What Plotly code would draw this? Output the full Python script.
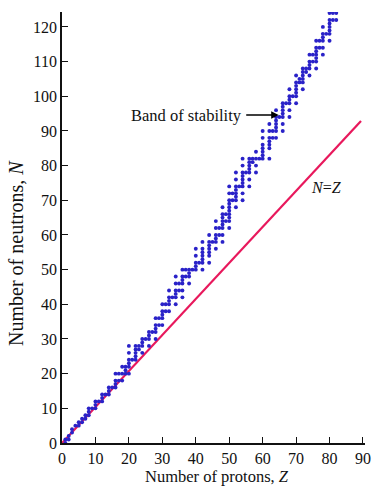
import plotly.graph_objects as go

# Band of stability: for each proton number Z, the neutron numbers N of stable nuclei
proton_numbers = list(range(1, 84))
neutron_numbers = [
    [0, 1], [1, 2], [3, 4], [5], [5, 6], [6, 7], [7, 8], [8, 9, 10], [10], [10, 11, 12],
    [12], [12, 13, 14], [14], [14, 15, 16], [16], [16, 17, 18, 20], [18, 20], [18, 20, 22],
    [20, 21, 22], [20, 22, 23, 24, 26, 28], [24], [24, 25, 26, 27, 28], [27, 28],
    [26, 28, 29, 30], [30], [28, 30, 31, 32], [32], [30, 32, 33, 34, 36], [34, 36],
    [34, 36, 37, 38, 40], [38, 40], [38, 40, 41, 42, 44], [42], [40, 42, 43, 44, 46, 48],
    [44, 46], [42, 44, 46, 47, 48, 50], [48, 50], [46, 48, 49, 50], [50], [50, 51, 52, 54, 56],
    [52], [50, 52, 53, 54, 55, 56, 58], [], [52, 54, 55, 56, 57, 58, 60], [58],
    [56, 58, 59, 60, 62, 64], [60, 62], [58, 60, 62, 63, 64, 65, 66, 68], [64, 66],
    [62, 64, 65, 66, 67, 68, 69, 70, 72, 74], [70, 72], [68, 70, 71, 72, 73, 74, 76, 78], [74],
    [70, 72, 74, 75, 76, 77, 78, 80, 82], [78], [74, 76, 78, 79, 80, 81, 82], [81, 82],
    [78, 80, 82, 84], [82], [82, 83, 84, 85, 86, 88, 90], [], [82, 85, 86, 87, 88, 90, 92],
    [88, 90], [88, 90, 91, 92, 93, 94, 96], [94], [90, 92, 94, 95, 96, 97, 98], [98],
    [94, 96, 98, 99, 100, 102], [100], [98, 100, 101, 102, 103, 104, 106], [104, 105],
    [102, 104, 105, 106, 107, 108], [107, 108], [106, 108, 109, 110, 112], [110, 112],
    [108, 110, 111, 112, 113, 114, 116], [114, 116], [112, 114, 116, 117, 118, 120], [118],
    [116, 118, 119, 120, 121, 122, 124], [122, 124], [122, 124, 125, 126], [126],
]

# The drawn "N = Z" reference line (as it appears in the figure)
line_Z = [0, 89.4]
line_N = [0, 92.9]

x_ticks = [0, 10, 20, 30, 40, 50, 60, 70, 80, 90]
y_ticks = [0, 10, 20, 30, 40, 50, 60, 70, 80, 90, 100, 110, 120]

Z_pts, N_pts = [], []
for z, ns in zip(proton_numbers, neutron_numbers):
    for n in ns:
        Z_pts.append(z)
        N_pts.append(n)

serif = "Liberation Serif, Times New Roman, serif"
ink = "#111111"

W, H = 377, 486
l, r, t, b = 62, 6, 12, 43
pw, ph = W - l - r, H - t - b
XMAX, YMAX = 90.6, 124.3


def px2paper(px, py):
    return (px - l) / pw, (H - b - py) / ph


fig = go.Figure()
fig.add_trace(go.Scatter(x=line_Z, y=line_N, mode="lines",
                         line=dict(color="#e8185c", width=2.2), hoverinfo="skip"))
fig.add_trace(go.Scatter(x=Z_pts, y=N_pts, mode="markers",
                         marker=dict(color="#2a22c8", size=3.9, line=dict(width=0))))

# arrow pointing at the band
head_Z, head_N = 64.8, 94.6
hx = l + head_Z / XMAX * pw
hy = t + (YMAX - head_N) / YMAX * ph
fig.add_annotation(x=head_Z, y=head_N, xref="x", yref="y", text="",
                   ax=249 - hx, ay=115 - hy, axref="pixel", ayref="pixel",
                   showarrow=True, arrowhead=2, arrowsize=1.0, arrowwidth=1.5,
                   arrowcolor="black")
bx, by = px2paper(248, 115)
fig.add_annotation(x=bx, y=by, xref="paper", yref="paper", text="Band of stability",
                   showarrow=False, font=dict(family=serif, size=16.5, color=ink),
                   xanchor="right", yanchor="middle")
fig.add_annotation(x=79.0, y=73.6, xref="x", yref="y", text="<i>N</i>=<i>Z</i>",
                   showarrow=False, font=dict(family=serif, size=16, color=ink))

# axis titles
yx, yy = px2paper(15, 253)
fig.add_annotation(x=yx, y=yy, xref="paper", yref="paper",
                   text="Number of neutrons, <i>N</i>", showarrow=False, textangle=-90,
                   xanchor="center", yanchor="middle",
                   font=dict(family=serif, size=20, color=ink))
xx, xy = px2paper(220, 476.5)
fig.add_annotation(x=xx, y=xy, xref="paper", yref="paper",
                   text="Number of protons, <i>Z</i>", showarrow=False,
                   xanchor="center", yanchor="middle", borderpad=0,
                   font=dict(family=serif, size=16.5, color=ink))

axis_common = dict(tickmode="array", ticks="inside", ticklen=6, tickwidth=1.3,
                   tickcolor=ink, showgrid=False, zeroline=False, showline=True,
                   linecolor=ink, linewidth=1.6, fixedrange=True,
                   tickfont=dict(family=serif, size=16, color=ink))

fig.update_layout(
    width=W, height=H,
    margin=dict(l=l, r=r, t=t, b=b),
    paper_bgcolor="white", plot_bgcolor="white",
    showlegend=False,
    font=dict(family=serif, size=16, color=ink),
    xaxis=dict(range=[0, XMAX], tickvals=x_ticks, **axis_common),
    yaxis=dict(range=[0, YMAX], tickvals=y_ticks, **axis_common),
)

fig.write_html("out.html")
